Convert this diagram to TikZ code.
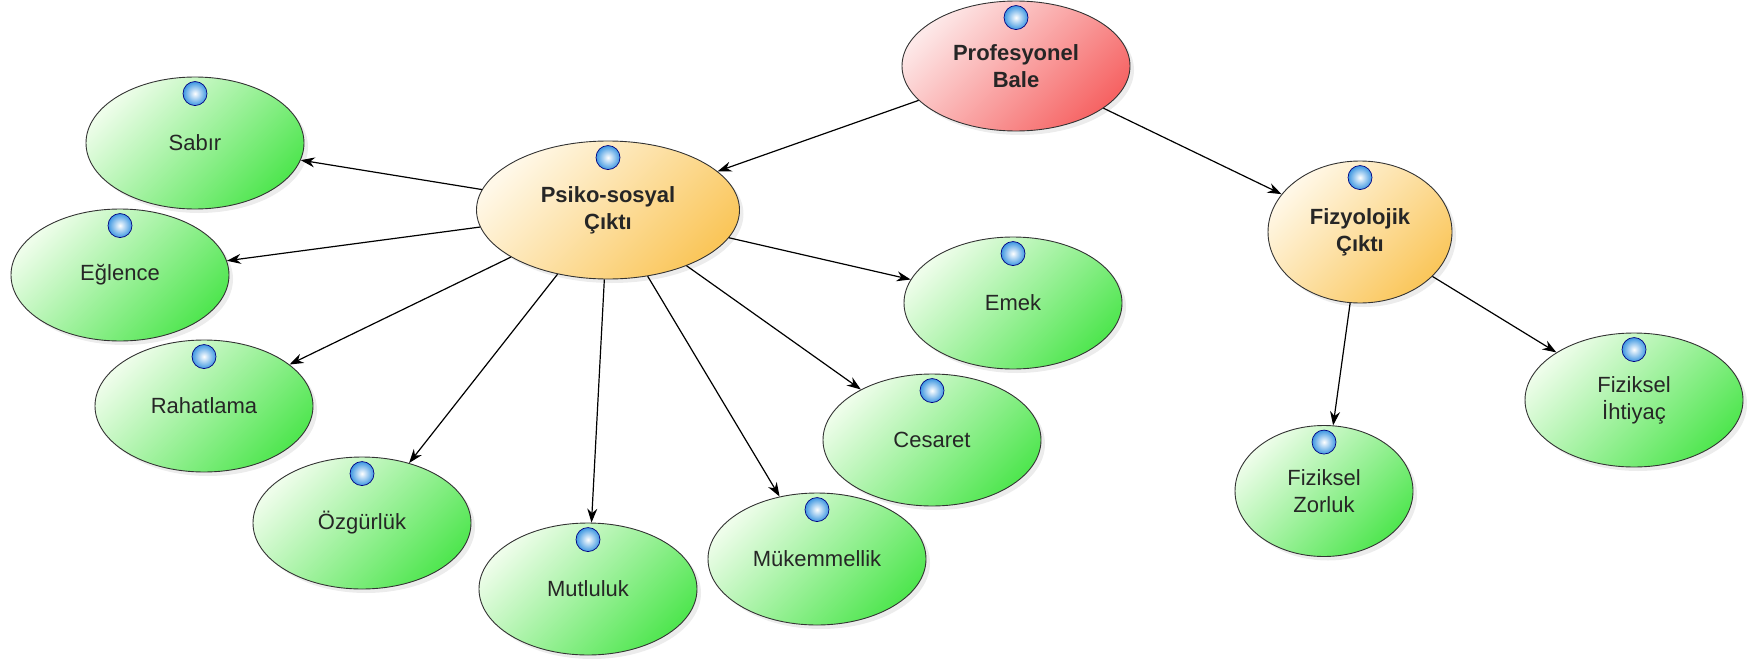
\documentclass[tikz,border=0pt]{standalone}
\usepackage{fontspec}
\setmainfont{Liberation Sans}
\usetikzlibrary{shapes.geometric, arrows.meta, shadows}

\definecolor{leafgreen}{RGB}{80,230,80}
\definecolor{leaflight}{RGB}{238,253,234}
\definecolor{rootred}{RGB}{246,100,100}
\definecolor{rootlight}{RGB}{253,232,232}
\definecolor{midyellow}{RGB}{250,198,90}
\definecolor{midlight}{RGB}{255,248,232}
\definecolor{iconblue}{RGB}{60,150,225}

\begin{document}
\begin{tikzpicture}[x=1pt, y=-1pt,
        every node/.style={font=\fontsize{22}{27}\selectfont, align=center, text=black!85},
        bubble/.style={ellipse, draw=black!80, line width=0.9pt, inner sep=0pt,
          minimum width=218pt, minimum height=132pt,
          drop shadow={opacity=0.15, shadow xshift=4pt, shadow yshift=-4pt}},
        leaf/.style={bubble, top color=leaflight, bottom color=leafgreen, shading angle=45},
        hub/.style={bubble, top color=midlight, bottom color=midyellow, shading angle=45, font=\fontsize{22}{27}\selectfont\bfseries},
        root/.style={bubble, top color=rootlight, bottom color=rootred, shading angle=45, font=\fontsize{22}{27}\selectfont\bfseries},
        link/.style={-{Stealth[length=14pt, width=10pt]}, line width=1.2pt}]
        \useasboundingbox (0,0) rectangle (1747,661);
        % top and middle level
        \node[root, minimum width=228pt, minimum height=130pt] (bale) at (1016,66) {Profesyonel\\Bale};
        \node[hub, minimum width=263pt, minimum height=138pt] (psy) at (608,210) {Psiko-sosyal\\Çıktı};
        \node[hub, minimum width=184pt, minimum height=142pt] (fiz) at (1360,232) {Fizyolojik\\Çıktı};
        % leaves
        \node[leaf] (sab) at (195,143) {Sabır};
        \node[leaf] (egl) at (120,275) {Eğlence};
        \node[leaf] (rah) at (204,406) {Rahatlama};
        \node[leaf] (ozg) at (362,523) {Özgürlük};
        \node[leaf] (mut) at (588,589) {Mutluluk};
        \node[leaf] (muk) at (817,559) {Mükemmellik};
        \node[leaf] (ces) at (932,440) {Cesaret};
        \node[leaf] (eme) at (1013,303) {Emek};
        \node[leaf, minimum width=178pt, minimum height=131pt] (zor) at (1324,491) {Fiziksel\\Zorluk};
        \node[leaf, minimum height=134pt] (iht) at (1634,400) {Fiziksel\\İhtiyaç};
        % arrows
        \draw[link] (bale) -- (psy);
        \draw[link] (bale) -- (fiz);
        \foreach \t in {sab, egl, rah, ozg, mut, muk, ces, eme} {
          \draw[link] (psy) -- (\t);
          }
        \draw[link] (fiz) -- (zor);
        \draw[link] (fiz) -- (iht);
        % blue dots
        \foreach \n in {bale, psy, fiz, sab, egl, rah, ozg, mut, muk, ces, eme, zor, iht} {
          \shadedraw[inner color=white, outer color=iconblue, draw=blue!50!black, line width=0.7pt] ([yshift=-17pt]\n.north) circle (12pt);
          }
      \end{tikzpicture}
\end{document}
